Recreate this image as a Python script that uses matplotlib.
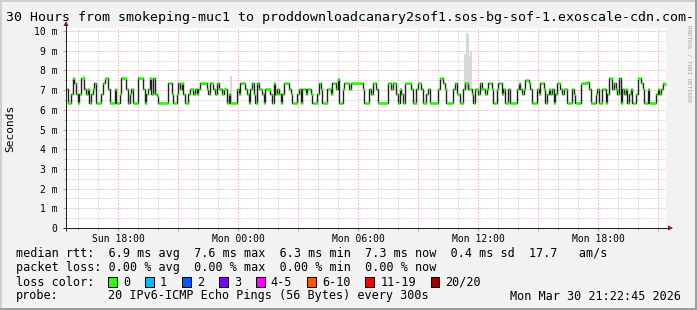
import matplotlib
matplotlib.use('Agg')
import matplotlib.pyplot as plt
import matplotlib.dates as mdates
from matplotlib.patches import Rectangle, Polygon
from matplotlib.lines import Line2D
from datetime import datetime, timedelta

plt.rcParams['font.family'] = ['DejaVu Sans Mono', 'DejaVu Sans']
plt.rcParams['lines.scale_dashes'] = False

# ---------------- data ----------------
title = "30 Hours from smokeping-muc1 to proddownloadcanary2sof1.sos-bg-sof-1.exoscale-cdn.com-"
end_time = datetime(2026, 3, 30, 21, 22, 45)
window_hours = 30

# median rtt (ms), oldest first
median_block1 = [7.05, 6.35, 6.35, 6.8, 7.6, 7.35, 6.8, 6.35, 6.8, 7.6, 7.6, 7.05, 6.8, 7.05, 6.35,
                 6.8, 7.05, 7.35, 6.35, 6.35, 6.35, 6.8, 7.35, 7.6, 7.6, 7.05, 6.35, 6.35, 6.35, 7.05,
                 6.35, 6.35, 6.8, 7.6, 7.6, 7.6, 7.05, 6.35, 6.8, 7.05, 6.35, 6.35, 6.35, 7.6, 7.6,
                 7.6, 7.05, 6.35, 6.8, 7.05, 7.6, 6.8, 7.6, 6.8, 6.7, 6.35, 6.35, 6.35, 6.35, 6.35, 6.35]
median_block2 = [7.35, 7.35, 6.8, 6.35, 6.35, 6.8, 7.35, 7.05, 7.35, 6.8, 6.35, 6.35, 6.8, 7.05, 7.05,
                 6.8, 7.05, 6.8, 7.05, 7.35, 7.35, 7.35, 7.35, 7.05, 6.8, 7.35, 7.35, 7.05, 6.8, 7.35,
                 7.05, 7.05, 6.8, 7.05, 7.05, 6.35, 6.8, 6.35, 6.35, 6.35, 6.35, 7.05, 6.8, 7.35, 7.35,
                 7.35, 7.05, 6.8, 6.35, 7.05, 7.35, 6.8, 6.35, 7.35, 7.05, 7.05, 6.8, 6.35, 7.05, 7.05]
median_block3 = [7.05, 6.8, 6.35, 7.35, 6.8, 7.05, 6.8, 6.35, 6.8, 7.35, 7.35, 7.35, 7.05, 6.8, 6.35,
                 6.35, 6.35, 6.8, 7.05, 6.35, 7.05, 7.05, 6.8, 7.05, 7.05, 6.8, 6.35, 6.35, 6.35, 6.8,
                 7.35, 7.05, 6.35, 6.35, 6.35, 7.05, 7.05, 6.8, 7.35, 7.35, 7.05, 7.55, 6.35, 6.35, 7.05,
                 7.35, 7.35, 7.35, 7.05, 7.35, 7.35, 7.35, 7.35, 7.35, 7.35, 7.35, 7.05, 6.35, 6.35, 6.35]
median_block4 = [7.05, 6.8, 7.35, 7.35, 7.05, 6.35, 6.35, 6.35, 6.35, 6.35, 6.35, 7.35, 7.35, 7.05, 7.35,
                 7.35, 6.8, 6.35, 7.05, 6.8, 6.35, 7.35, 7.35, 7.35, 7.35, 7.05, 6.35, 6.35, 7.05, 7.35,
                 7.35, 7.05, 6.35, 6.35, 6.8, 7.05, 6.35, 6.35, 6.35, 6.35, 6.35, 7.05, 7.6, 7.6, 7.35,
                 7.05, 6.35, 6.35, 6.35, 6.35, 7.05, 7.35, 6.8, 6.8, 6.35, 6.35, 7.05, 7.35, 7.35, 7.05]
median_block5 = [7.05, 6.8, 6.35, 7.05, 7.05, 6.8, 7.35, 7.05, 7.05, 6.8, 7.05, 7.35, 7.35, 7.05, 6.35,
                 6.35, 7.05, 7.35, 7.35, 6.8, 7.05, 6.35, 6.35, 7.05, 6.35, 6.35, 6.35, 6.35, 7.05, 7.35,
                 7.05, 6.8, 7.05, 7.5, 7.5, 7.35, 7.05, 6.35, 6.35, 6.35, 7.05, 6.8, 7.35, 7.35, 7.05,
                 6.35, 6.8, 7.05, 6.8, 7.05, 6.35, 6.8, 7.35, 7.35, 7.05, 6.8, 7.05, 7.05, 6.35, 6.35]
median_block6 = [6.35, 7.05, 6.8, 6.35, 6.35, 6.35, 7.35, 7.35, 7.35, 7.35, 7.4, 7.05, 6.35, 6.35, 6.35,
                 6.8, 7.05, 6.35, 6.35, 7.05, 7.05, 6.35, 6.8, 7.6, 7.6, 7.05, 7.35, 7.05, 6.8, 7.6,
                 6.35, 7.05, 6.8, 7.05, 6.35, 6.8, 7.05, 6.35, 6.35, 6.8, 7.6, 7.6, 7.35, 7.05, 6.35,
                 6.35, 7.05, 6.35, 6.35, 6.35, 6.35, 6.8, 7.05, 6.8, 7.05, 7.35, 7.3]

# smoke (spread of the 20 pings) that is visible outside the median band
smoke_times = ['2026-03-29 16:14', '2026-03-29 18:11', '2026-03-29 18:59', '2026-03-29 23:35',
               '2026-03-30 11:18', '2026-03-30 11:23', '2026-03-30 11:28', '2026-03-30 11:32',
               '2026-03-30 11:36']
smoke_lo = [7.45, 7.45, 7.45, 6.4, 7.0, 7.0, 7.0, 7.0, 7.0]
smoke_hi = [7.75, 7.72, 7.72, 7.7, 8.85, 9.9, 9.85, 8.7, 9.0]

y_ticks = [0, 1, 2, 3, 4, 5, 6, 7, 8, 9, 10]
y_tick_labels = ['0', '1 m', '2 m', '3 m', '4 m', '5 m', '6 m', '7 m', '8 m', '9 m', '10 m']
y_label = 'Seconds'

row_median = "median rtt:  6.9 ms avg  7.6 ms max  6.3 ms min  7.3 ms now  0.4 ms sd  17.7   am/s"
row_loss = "packet loss: 0.00 % avg  0.00 % max  0.00 % min  0.00 % now"
loss_title = "loss color:"
loss_labels = ['0', '1', '2', '3', '4-5', '6-10', '11-19', '20/20']
loss_colors = ['#26ff00', '#00b8ff', '#0059ff', '#7e00ff', '#ff00ff', '#ff5500', '#ff0000', '#a10000']
probe_title = "probe:"
probe_text = "20 IPv6-ICMP Echo Pings (56 Bytes) every 300s"
stamp_text = "Mon Mar 30 21:22:45 2026"
watermark = "RRDTOOL / TOBI OETIKER"

# ---------------- style ----------------
W, H = 697, 310
BACK = '#f2f2f2'
GRID = (0.56, 0.56, 0.56, 0.6)
MGRID = (0.87, 0.31, 0.31, 0.6)
ARROW = '#801f1f'
AXIS = '#1f1f1f'
X0, X1 = 66, 666          # canvas pixel columns
Y_TOP, Y0, Y10 = 28, 228, 31  # canvas top, value 0, value 10

fig = plt.figure(figsize=(W / 100, H / 100), dpi=100, facecolor=BACK)


def fx(x):
    return x / W


def fy(y):
    return 1 - y / H


def fline(x0, y0, x1, y1, color, lw=0.72, **kw):
    fig.add_artist(Line2D([fx(x0), fx(x1)], [fy(y0), fy(y1)], transform=fig.transFigure,
                          color=color, lw=lw, solid_capstyle='butt', **kw))


ax = fig.add_axes([fx(X0), fy(Y0), (X1 - X0) / W, (Y0 - Y_TOP) / H])
ax.set_facecolor('white')
for s in ax.spines.values():
    s.set_visible(False)

median = median_block1 + median_block2 + median_block3 + median_block4 + median_block5 + median_block6
t_end = mdates.date2num(end_time)
t_start = mdates.date2num(end_time - timedelta(hours=window_hours))
n = len(median)
dt = (t_end - t_start) / n
times = [t_start + i * dt for i in range(n + 1)]
vals = median + [median[-1]]

ymax = 10 * (Y0 - Y_TOP) / (Y0 - Y10)
ax.set_xlim(t_start, t_end)
ax.set_ylim(0, ymax)

# grid (dotted, 1 px on / 2 px off)
dash = (0, (0.72, 1.44))
h = (end_time - timedelta(hours=window_hours)).replace(minute=0, second=0) + timedelta(hours=1)
label_times = []
while h <= end_time:
    xv = mdates.date2num(h)
    px = X0 + (xv - t_start) / (t_end - t_start) * (X1 - X0)
    if h.hour % 3 == 0:
        ax.axvline(xv, color=MGRID, lw=0.72, linestyle=dash, zorder=0.6)
        fline(px, Y0, px, Y0 + 3, MGRID)
    else:
        ax.axvline(xv, color=GRID, lw=0.72, linestyle=dash, zorder=0.5)
        fline(px, Y0, px, Y0 + 2, GRID)
    if h.hour % 6 == 0:
        label_times.append(h)
    h += timedelta(hours=1)

for k in range(1, 21):
    v = k * 0.5
    py = Y0 - v / ymax * (Y0 - Y_TOP)
    if k % 2 == 0:
        ax.axhline(v, color=MGRID, lw=0.72, linestyle=dash, zorder=0.6)
        fline(X0 - 3, py, X0, py, MGRID)
    else:
        ax.axhline(v, color=GRID, lw=0.72, linestyle=dash, zorder=0.5)
        fline(X0 - 2, py, X0, py, GRID)

# smoke
sm_x = [mdates.date2num(datetime.strptime(s, '%Y-%m-%d %H:%M')) for s in smoke_times]
ax.bar(sm_x, [hi - lo for hi, lo in zip(smoke_hi, smoke_lo)], bottom=smoke_lo,
       width=dt, align='edge', color='#d8d8d8', lw=0, zorder=1)

# median line and loss-colour band
ax.step(times, vals, where='post', color='#202020', lw=1.0, zorder=2)
band = 0.065
ax.fill_between(times, [v - band for v in vals], [v + band for v in vals], step='post',
                color=loss_colors[0], lw=0, zorder=3)

# ticks / labels
ax.set_xticks([mdates.date2num(t) for t in label_times])
ax.set_xticklabels([t.strftime('%a %H:%M') for t in label_times])
ax.set_yticks(y_ticks)
ax.set_yticklabels(y_tick_labels)
ax.tick_params(axis='x', length=0, pad=4.5, labelsize=7, colors='black')
ax.tick_params(axis='y', length=0, pad=6.0, labelsize=7, colors='black')

# axes lines + arrows
fline(X0, Y0 + 3, X0, Y_TOP - 3, AXIS)
fline(X0 - 3, Y0, X1 + 3, Y0, AXIS)
fig.add_artist(Polygon([[fx(X0 - 2.5), fy(Y_TOP - 2)], [fx(X0 + 2.5), fy(Y_TOP - 2)], [fx(X0), fy(Y_TOP - 7)]],
                       closed=True, transform=fig.transFigure, color=ARROW, lw=0))
fig.add_artist(Polygon([[fx(X1 + 2), fy(Y0 - 2.5)], [fx(X1 + 2), fy(Y0 + 2.5)], [fx(X1 + 7), fy(Y0)]],
                       closed=True, transform=fig.transFigure, color=ARROW, lw=0))

# texts
fig.text(fx(350), fy(18), title, ha='center', va='center', fontsize=9.5, color='black')
fig.text(fx(10), fy(128), y_label, ha='center', va='center', rotation=90, fontsize=8, color='black')
fig.text(fx(689), fy(25), watermark, ha='center', va='top', rotation=270, fontsize=4.2, color='#a0a0a0')

LEG = 8.5
CW = LEG * 100 / 72 * 0.6021
fig.text(fx(16), fy(254), row_median, ha='left', va='center', fontsize=LEG)
fig.text(fx(16), fy(268), row_loss, ha='left', va='center', fontsize=LEG)
fig.text(fx(16), fy(282), loss_title, ha='left', va='center', fontsize=LEG)
xb = 16 + 13 * CW
for lab, col in zip(loss_labels, loss_colors):
    fig.add_artist(Rectangle((fx(xb), fy(282 + 5)), 8.5 / W, 10 / H, transform=fig.transFigure,
                             facecolor=col, edgecolor='black', lw=0.72))
    xt = xb + 14.8
    fig.text(fx(xt), fy(282), lab, ha='left', va='center', fontsize=LEG)
    xb = xt + len(lab) * CW + 15
fig.text(fx(16), fy(296), probe_title, ha='left', va='center', fontsize=LEG)
fig.text(fx(16 + 13 * CW), fy(296), probe_text, ha='left', va='center', fontsize=LEG)
fig.text(fx(681), fy(296), stamp_text, ha='right', va='center', fontsize=LEG)

# frame shading
fline(0, 0.5, W, 0.5, '#cfcfcf', lw=1.44)
fline(0.5, 0, 0.5, H, '#cfcfcf', lw=1.44)
fline(0, H - 1, W, H - 1, '#9e9e9e', lw=1.44)
fline(W - 1, 0, W - 1, H, '#9e9e9e', lw=1.44)

fig.savefig('out.png', dpi=100, facecolor=BACK)
